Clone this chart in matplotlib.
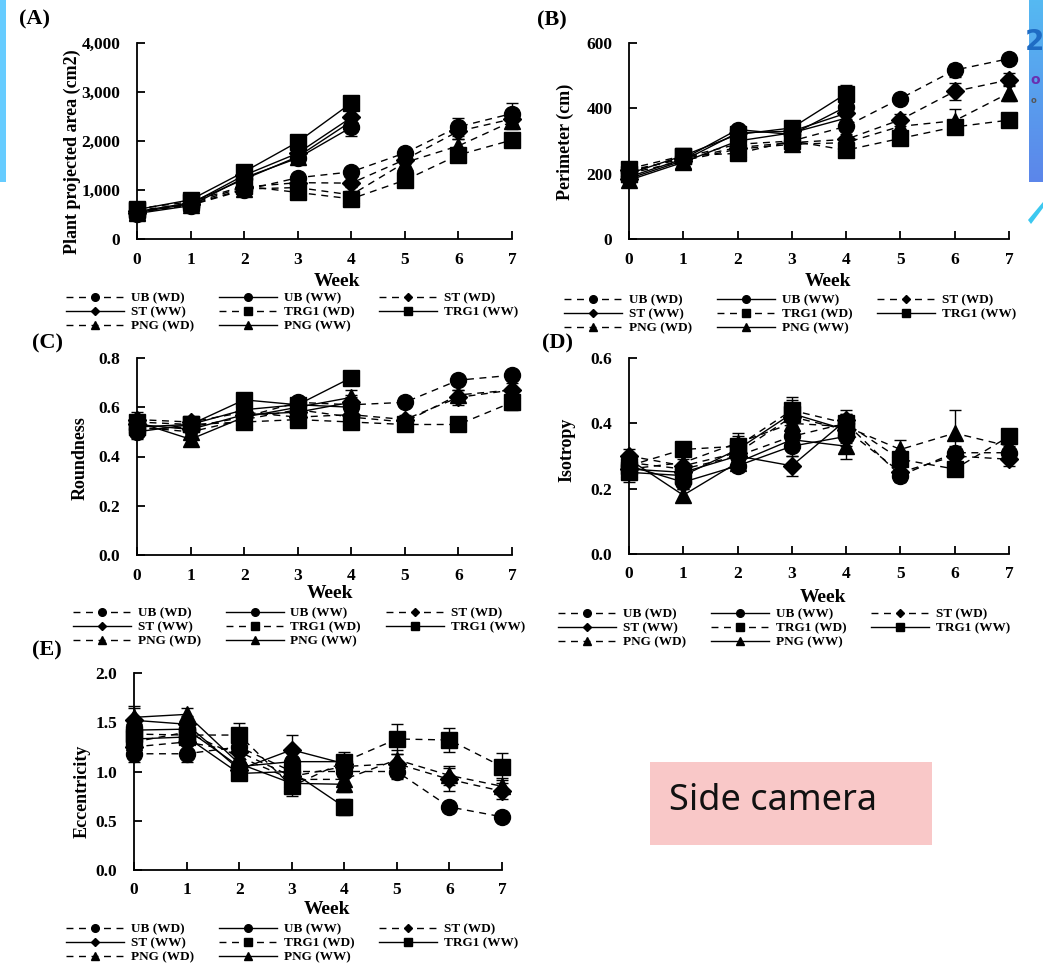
import matplotlib
matplotlib.use("Agg")
import matplotlib.pyplot as plt
from matplotlib.lines import Line2D
from matplotlib.patches import Rectangle, Polygon
from matplotlib.ticker import FuncFormatter, MultipleLocator
import numpy as np

plt.rcParams["font.family"] = ["Liberation Serif", "DejaVu Serif"]
plt.rcParams["font.weight"] = "bold"

W, H = 1043, 969

WEEKS_WW = [0, 1, 2, 3, 4]
WEEKS_WD = [0, 1, 2, 3, 4, 5, 6, 7]
GENOTYPES = ["UB", "ST", "TRG1", "PNG"]

# (A) Plant projected area (cm2)
AREA_WW = {"UB": [520, 680, 1250, 1650, 2280],
           "ST": [540, 720, 1300, 1750, 2480],
           "TRG1": [600, 800, 1370, 1980, 2775],
           "PNG": [560, 740, 1220, 1680, 2400]}
AREA_WD = {"UB": [560, 690, 1000, 1250, 1370, 1755, 2290, 2560],
           "ST": [580, 720, 1060, 1150, 1140, 1620, 2200, 2450],
           "TRG1": [620, 760, 1080, 950, 820, 1200, 1715, 2020],
           "PNG": [540, 700, 1020, 1050, 900, 1560, 1900, 2400]}
AREA_WW_SE = {"UB": [60, 50, 80, 120, 180], "ST": [50, 50, 70, 110, 150],
              "TRG1": [60, 60, 70, 90, 110], "PNG": [50, 40, 70, 100, 140]}
AREA_WD_SE = {"UB": [50, 40, 60, 80, 80, 90, 180, 220], "ST": [50, 40, 50, 70, 70, 80, 150, 180],
              "TRG1": [60, 40, 60, 80, 90, 70, 120, 90], "PNG": [50, 40, 50, 70, 80, 90, 150, 160]}

# (B) Perimeter (cm)
PERIM_WW = {"UB": [190, 245, 335, 320, 405],
            "ST": [185, 240, 325, 330, 385],
            "TRG1": [200, 255, 320, 340, 445],
            "PNG": [180, 235, 300, 325, 370]}
PERIM_WD = {"UB": [205, 250, 290, 300, 345, 430, 517, 552],
            "ST": [210, 245, 280, 295, 305, 365, 452, 487],
            "TRG1": [215, 255, 262, 300, 272, 308, 343, 364],
            "PNG": [200, 240, 275, 290, 295, 345, 362, 447]}
PERIM_WW_SE = {"UB": [15, 12, 15, 15, 20], "ST": [15, 12, 15, 15, 18],
               "TRG1": [15, 12, 12, 15, 25], "PNG": [15, 12, 15, 15, 18]}
PERIM_WD_SE = {"UB": [15, 12, 12, 12, 15, 12, 20, 12], "ST": [15, 12, 12, 12, 15, 18, 25, 20],
               "TRG1": [15, 12, 12, 12, 15, 12, 15, 12], "PNG": [15, 12, 12, 12, 15, 15, 35, 25]}

# (C) Roundness
ROUND_WW = {"UB": [0.50, 0.53, 0.59, 0.61, 0.60],
            "ST": [0.53, 0.51, 0.57, 0.58, 0.62],
            "TRG1": [0.52, 0.53, 0.63, 0.61, 0.72],
            "PNG": [0.54, 0.47, 0.56, 0.60, 0.64]}
ROUND_WD = {"UB": [0.51, 0.52, 0.56, 0.62, 0.61, 0.62, 0.71, 0.73],
            "ST": [0.55, 0.54, 0.58, 0.56, 0.57, 0.55, 0.64, 0.67],
            "TRG1": [0.54, 0.53, 0.54, 0.55, 0.54, 0.53, 0.53, 0.62],
            "PNG": [0.52, 0.50, 0.55, 0.59, 0.56, 0.54, 0.65, 0.67]}
ROUND_WW_SE = {"UB": [0.03, 0.02, 0.02, 0.02, 0.03], "ST": [0.03, 0.02, 0.02, 0.02, 0.03],
               "TRG1": [0.02, 0.02, 0.02, 0.02, 0.02], "PNG": [0.03, 0.02, 0.02, 0.04, 0.03]}
ROUND_WD_SE = {"UB": [0.03, 0.02, 0.02, 0.02, 0.03, 0.02, 0.02, 0.02], "ST": [0.03, 0.02, 0.02, 0.02, 0.03, 0.02, 0.03, 0.03],
               "TRG1": [0.03, 0.02, 0.02, 0.02, 0.02, 0.02, 0.02, 0.03], "PNG": [0.03, 0.02, 0.02, 0.02, 0.03, 0.02, 0.02, 0.04]}

# (D) Isotropy
ISO_WW = {"UB": [0.27, 0.22, 0.27, 0.33, 0.36],
          "ST": [0.26, 0.25, 0.30, 0.27, 0.41],
          "TRG1": [0.25, 0.24, 0.32, 0.43, 0.38],
          "PNG": [0.29, 0.18, 0.28, 0.35, 0.33]}
ISO_WD = {"UB": [0.28, 0.26, 0.30, 0.36, 0.40, 0.24, 0.31, 0.31],
          "ST": [0.30, 0.27, 0.31, 0.42, 0.38, 0.25, 0.30, 0.29],
          "TRG1": [0.27, 0.32, 0.33, 0.44, 0.40, 0.29, 0.26, 0.36],
          "PNG": [0.26, 0.28, 0.34, 0.40, 0.39, 0.32, 0.37, 0.33]}
ISO_WW_SE = {"UB": [0.02, 0.02, 0.02, 0.03, 0.03], "ST": [0.02, 0.02, 0.02, 0.03, 0.03],
             "TRG1": [0.03, 0.02, 0.02, 0.04, 0.04], "PNG": [0.02, 0.02, 0.02, 0.03, 0.04]}
ISO_WD_SE = {"UB": [0.02, 0.02, 0.02, 0.04, 0.03, 0.02, 0.02, 0.02], "ST": [0.02, 0.02, 0.02, 0.04, 0.03, 0.02, 0.02, 0.02],
             "TRG1": [0.02, 0.02, 0.03, 0.04, 0.03, 0.02, 0.02, 0.02], "PNG": [0.02, 0.02, 0.03, 0.04, 0.03, 0.03, 0.07, 0.03]}

# (E) Eccentricity
ECC_WW = {"UB": [1.42, 1.43, 1.05, 1.10, 1.10],
          "ST": [1.52, 1.48, 1.02, 1.22, 1.08],
          "TRG1": [1.33, 1.35, 0.98, 1.00, 0.64],
          "PNG": [1.55, 1.58, 1.08, 0.88, 0.87]}
ECC_WD = {"UB": [1.18, 1.18, 1.25, 1.00, 1.00, 1.00, 0.64, 0.54],
          "ST": [1.25, 1.30, 1.20, 0.95, 1.05, 1.08, 0.92, 0.80],
          "TRG1": [1.38, 1.37, 1.37, 0.85, 1.10, 1.33, 1.32, 1.05],
          "PNG": [1.30, 1.40, 1.15, 0.92, 0.92, 1.12, 0.96, 0.85]}
ECC_WW_SE = {"UB": [0.10, 0.08, 0.06, 0.06, 0.06], "ST": [0.12, 0.08, 0.06, 0.15, 0.06],
             "TRG1": [0.08, 0.08, 0.05, 0.08, 0.08], "PNG": [0.12, 0.06, 0.06, 0.08, 0.08]}
ECC_WD_SE = {"UB": [0.08, 0.08, 0.06, 0.08, 0.06, 0.08, 0.04, 0.03], "ST": [0.10, 0.08, 0.06, 0.08, 0.08, 0.10, 0.12, 0.08],
             "TRG1": [0.10, 0.08, 0.12, 0.10, 0.10, 0.15, 0.12, 0.14], "PNG": [0.10, 0.08, 0.08, 0.08, 0.08, 0.10, 0.10, 0.08]}

Y_LABELS = ["Plant projected area (cm2)", "Perimeter (cm)", "Roundness", "Isotropy", "Eccentricity"]
PANEL_TAGS = ["(A)", "(B)", "(C)", "(D)", "(E)"]

MARKERS = {"UB": ("o", 11.5), "ST": ("D", 9), "TRG1": ("s", 11), "PNG": ("^", 11)}
LEG_MS = {"UB": 5.5, "ST": 4, "TRG1": 5.5, "PNG": 5.5}
DASH = (5, 4)


def fx(x):
    return x / W


def fy(y):
    return 1 - y / H


fig = plt.figure(figsize=(W / 100, H / 100), dpi=100)
fig.patch.set_facecolor("white")

# slide decorations around the figure
deco = fig.add_axes([0, 0, 1, 1])
deco.axis("off")
deco.add_patch(Rectangle((0, 0), 6, 182, color="#66ccff", lw=0))
grad = np.linspace(0, 1, 100)[:, None]
deco.imshow(grad, extent=(1029, 1043, 182, 0), aspect="auto",
            cmap=matplotlib.colors.LinearSegmentedColormap.from_list("g", ["#55b9f2", "#5c86ea"]))
deco.text(1025, 42, "2", fontsize=20, color="#1f6cc4", family="DejaVu Sans", va="center", ha="left")
deco.text(1030, 80, "o", fontsize=10, color="#6a2fb0", family="DejaVu Sans", va="center", ha="left")
deco.text(1031, 100, "o", fontsize=6, color="#555555", family="DejaVu Sans", va="center", ha="left")
deco.add_patch(Polygon([[1028, 220], [1043, 202], [1043, 208], [1031, 224]], closed=True, color="#3cc8f0", lw=0))
deco.set_xlim(0, W)
deco.set_ylim(H, 0)

# Side camera box
deco.add_patch(Rectangle((650, 762), 282, 83, color="#f9c8c8", lw=0))
deco.text(669, 801, "Side camera", fontsize=26, family="Noto Sans", fontweight="normal",
          color="#111111", va="center", ha="left")

# axes boxes in pixels: left, top, right, bottom
BOXES = [(137, 43, 512, 239), (629, 43, 1009, 239), (137, 358, 512, 555),
         (629, 358, 1009, 554), (134, 673, 502, 870)]
YLIMS = [(0, 4000), (0, 600), (0, 0.8), (0, 0.6), (0, 2.0)]
YSTEPS = [1000, 200, 0.2, 0.2, 0.5]
YFMT = [lambda v, p: f"{int(v):,}", lambda v, p: f"{int(v)}", lambda v, p: f"{v:.1f}",
        lambda v, p: f"{v:.1f}", lambda v, p: f"{v:.1f}"]
YLAB_POS = [(72, 152), (565, 142), (80, 458), (567, 450), (82, 791)]
WEEK_POS = [(337, 281), (828, 281), (330, 594), (823, 598), (327, 909)]
TAG_POS = [(19, 19), (537, 20), (32, 343), (542, 343), (32, 650)]
LEG_POS = [(66, 292), (564, 294), (73, 607), (558, 608), (66, 923)]

DATA = [(AREA_WW, AREA_WD, AREA_WW_SE, AREA_WD_SE),
        (PERIM_WW, PERIM_WD, PERIM_WW_SE, PERIM_WD_SE),
        (ROUND_WW, ROUND_WD, ROUND_WW_SE, ROUND_WD_SE),
        (ISO_WW, ISO_WD, ISO_WW_SE, ISO_WD_SE),
        (ECC_WW, ECC_WD, ECC_WW_SE, ECC_WD_SE)]

# legend handles ordered so that ncol=3 reads row by row
LEG_ORDER = [("UB", "WD"), ("ST", "WW"), ("PNG", "WD"),
             ("UB", "WW"), ("TRG1", "WD"), ("PNG", "WW"),
             ("ST", "WD"), ("TRG1", "WW")]

for i, (box, data) in enumerate(zip(BOXES, DATA)):
    l, t, r, b = box
    ax = fig.add_axes([fx(l), fy(b), (r - l) / W, (b - t) / H])
    ax.set_facecolor("none")
    ww, wd, ww_se, wd_se = data
    for g in GENOTYPES:
        m, ms = MARKERS[g]
        ax.errorbar(WEEKS_WD, wd[g], yerr=wd_se[g], color="black", marker=m, ms=ms,
                    lw=1.0, dashes=DASH, elinewidth=1.0, capsize=4, capthick=1.0,
                    clip_on=False, zorder=3)
        ax.errorbar(WEEKS_WW, ww[g], yerr=ww_se[g], color="black", marker=m, ms=ms,
                    lw=1.0, ls="-", elinewidth=1.0, capsize=4, capthick=1.0,
                    clip_on=False, zorder=3)
    ax.set_xlim(0, 7)
    ax.set_ylim(*YLIMS[i])
    ax.set_xticks(range(8))
    ax.yaxis.set_major_locator(MultipleLocator(YSTEPS[i]))
    ax.yaxis.set_major_formatter(FuncFormatter(YFMT[i]))
    for s in ("top", "right"):
        ax.spines[s].set_visible(False)
    for s in ("left", "bottom"):
        ax.spines[s].set_linewidth(1.3)
    ax.tick_params(direction="in", length=6, width=1.3, labelsize=12.5)
    ax.tick_params(axis="y", pad=12)
    ax.tick_params(axis="x", pad=9)
    for lab in ax.get_xticklabels() + ax.get_yticklabels():
        lab.set_fontweight("bold")

    yx, yy = YLAB_POS[i]
    fig.text(fx(yx), fy(yy), Y_LABELS[i], rotation=90, ha="center", va="center",
             fontsize=13, fontweight="bold")
    wx, wy = WEEK_POS[i]
    fig.text(fx(wx), fy(wy), "Week", ha="center", va="center", fontsize=14, fontweight="bold")
    tx, ty = TAG_POS[i]
    fig.text(fx(tx), fy(ty), PANEL_TAGS[i], ha="left", va="center", fontsize=16, fontweight="bold")

    handles, labels = [], []
    for g, cond in LEG_ORDER:
        m, _ = MARKERS[g]
        h = Line2D([], [], color="black", marker=m, ms=LEG_MS[g], lw=1.0,
                   ls="-" if cond == "WW" else (0, DASH))
        handles.append(h)
        labels.append(f"{g} ({cond})")
    lx, ly = LEG_POS[i]
    fig.legend(handles, labels, loc="upper left", bbox_to_anchor=(fx(lx), fy(ly)),
               ncol=3, frameon=False, borderpad=0, borderaxespad=0,
               prop={"family": "Liberation Serif", "weight": "bold", "size": 9.5},
               handlelength=4.4, handletextpad=0.5, columnspacing=1.9,
               labelspacing=0.15)

fig.savefig("out.png", dpi=100, facecolor="white")
